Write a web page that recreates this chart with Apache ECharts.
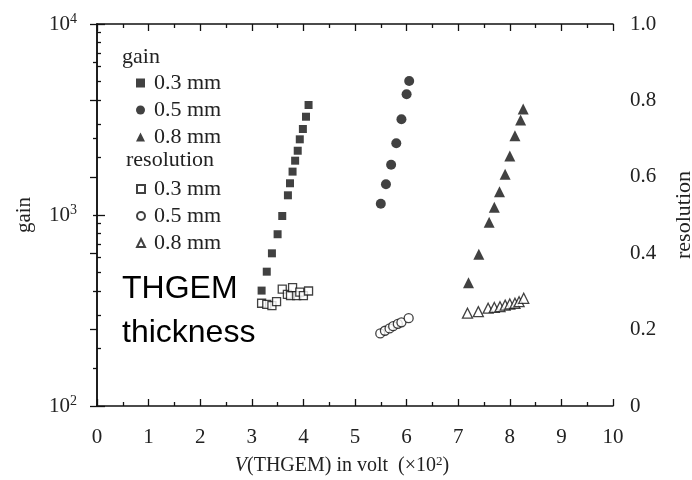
<!DOCTYPE html>
<html>
<head>
<meta charset="utf-8">
<script src="https://cdn.jsdelivr.net/npm/echarts@6/dist/echarts.min.js"></script>
<style>html,body{margin:0;padding:0;background:#fff}#c{width:692px;height:480px}</style>
</head>
<body>
<div id="c"></div>
<script>
// ---- data ----
var gain03X = [3.19, 3.29, 3.39, 3.50, 3.59, 3.70, 3.74, 3.79, 3.84, 3.89, 3.93, 3.99, 4.05, 4.10];
var gain03Y = [402, 505, 630, 793, 988, 1268, 1466, 1687, 1925, 2170, 2490, 2820, 3270, 3767];
var gain05X = [5.50, 5.60, 5.70, 5.80, 5.90, 6.00, 6.05];
var gain05Y = [1146, 1448, 1834, 2373, 3170, 4285, 5030];
var gain08X = [7.20, 7.40, 7.60, 7.70, 7.80, 7.91, 8.00, 8.10, 8.21, 8.26];
var gain08Y = [442, 623, 916, 1097, 1324, 1633, 2036, 2601, 3143, 3589];
var res03X = [3.19, 3.29, 3.39, 3.48, 3.59, 3.69, 3.75, 3.79, 3.87, 3.93, 4.00, 4.10];
var res03Y = [0.269, 0.266, 0.263, 0.273, 0.306, 0.292, 0.289, 0.310, 0.289, 0.298, 0.289, 0.301];
var res05X = [5.49, 5.58, 5.67, 5.74, 5.83, 5.90, 6.04];
var res05Y = [0.190, 0.197, 0.203, 0.209, 0.215, 0.219, 0.230];
var res08X = [7.18, 7.39, 7.58, 7.70, 7.81, 7.91, 8.00, 8.10, 8.18, 8.27];
var res08Y = [0.243, 0.247, 0.256, 0.258, 0.260, 0.264, 0.267, 0.269, 0.273, 0.282];
var thicknesses = ['0.3 mm', '0.5 mm', '0.8 mm'];
var xTicks = [0, 1, 2, 3, 4, 5, 6, 7, 8, 9, 10];
var gainMajorTicks = [100, 1000, 10000];
var gainMinorTicks = [200, 300, 400, 500, 600, 700, 800, 900, 2000, 3000, 4000, 5000, 6000, 7000, 8000, 9000];
var resTicks = [0, 0.2, 0.4, 0.6, 0.8, 1.0];

function pairs(xs, ys) { return xs.map(function (x, i) { return [x, ys[i]]; }); }

var SERIF = '"Liberation Serif", "DejaVu Serif", serif';
var TXT = '#222';
var INK = '#111';

var chart = echarts.init(document.getElementById('c'), null, { renderer: 'canvas' });

function filled(name, sym, size, xs, ys) {
  return {
    type: 'scatter', name: name, xAxisIndex: 0, yAxisIndex: 0,
    symbol: sym, symbolSize: size,
    itemStyle: { color: INK },
    data: pairs(xs, ys)
  };
}
function hollow(name, sym, size, xs, ys) {
  return {
    type: 'scatter', name: name, xAxisIndex: 0, yAxisIndex: 1,
    symbol: sym, symbolSize: size,
    itemStyle: { color: '#fff', borderColor: INK, borderWidth: 1.3 },
    data: pairs(xs, ys)
  };
}

var legendFmt = function (n) { return n.replace(/^\S+ /, ''); };
var legendText = { fontFamily: SERIF, fontSize: 22, color: TXT, padding: [0, 0, 0, 4] };

var option = {
  animation: false,
  backgroundColor: '#fff',
  grid: { left: 97, right: 79, top: 24, bottom: 74, outerBoundsMode: 'none', containLabel: false },
  legend: [
    {
      orient: 'vertical', left: 131, top: 67, itemWidth: 9, itemHeight: 9, itemGap: 5,
      data: thicknesses.map(function (t) { return 'gain ' + t; }),
      formatter: legendFmt, textStyle: legendText, selectedMode: false
    },
    {
      orient: 'vertical', left: 131, top: 173, itemWidth: 8, itemHeight: 8, itemGap: 5,
      data: thicknesses.map(function (t) { return 'resolution ' + t; }),
      formatter: legendFmt, textStyle: legendText, selectedMode: false
    }
  ],
  graphic: [
    { type: 'text', left: 122, top: 46, style: { text: 'gain', font: '22px ' + SERIF, fill: TXT } },
    { type: 'text', left: 126, top: 149, style: { text: 'resolution', font: '22px ' + SERIF, fill: TXT } },
    { type: 'text', left: 122, top: 267, style: { text: 'THGEM\nthickness', font: '32px "Liberation Sans", Arial, sans-serif', fill: '#000', lineHeight: 44 } }
  ],
  xAxis: [
    {
      type: 'value', position: 'bottom', min: 0, max: 10, interval: 1,
      axisLine: { lineStyle: { color: INK, width: 1.5 } },
      axisTick: { inside: true, length: 7, lineStyle: { color: INK, width: 1.3 } },
      minorTick: { show: true, splitNumber: 2, length: 4, lineStyle: { color: INK, width: 1.3 } },
      splitLine: { show: false },
      axisLabel: { margin: 21, fontFamily: SERIF, fontSize: 21, color: TXT, showMinLabel: true, showMaxLabel: true,
        formatter: function (v) { return xTicks.indexOf(v) >= 0 ? String(v) : ''; } },
      name: '{i|V}(THGEM) in volt  (×10{s|2})', nameLocation: 'middle', nameGap: 49,
      nameTextStyle: {
        fontFamily: SERIF, fontSize: 20, color: TXT, padding: [0, 26, 0, 0],
        rich: {
          i: { fontFamily: SERIF, fontSize: 20, fontStyle: 'italic', color: TXT },
          s: { fontFamily: SERIF, fontSize: 13, color: TXT, verticalAlign: 'top', padding: [0, 0, 8, 0] }
        }
      }
    },
    {
      type: 'value', position: 'top', min: 0, max: 10, interval: 1,
      axisLine: { lineStyle: { color: INK, width: 1.5 } },
      axisTick: { inside: true, length: 7, lineStyle: { color: INK, width: 1.3 } },
      minorTick: { show: true, splitNumber: 2, length: 4, lineStyle: { color: INK, width: 1.3 } },
      splitLine: { show: false }, axisLabel: { show: false }
    }
  ],
  yAxis: [
    {
      type: 'log', logBase: 10, position: 'left', min: 100, max: 10000,
      axisLine: { show: true, lineStyle: { color: INK, width: 1.5 } },
      axisTick: { show: true, inside: true, length: 8, customValues: gainMajorTicks, lineStyle: { color: INK, width: 1.3 } },
      splitLine: { show: false },
      axisLabel: {
        margin: 20, customValues: gainMajorTicks,
        formatter: function (v) { return '{b|10}{s|' + Math.round(Math.log10(v)) + '}'; },
        rich: {
          b: { fontFamily: SERIF, fontSize: 21, color: TXT },
          s: { fontFamily: SERIF, fontSize: 14, color: TXT, verticalAlign: 'top', padding: [0, 0, 10, 0] }
        }
      },
      name: 'gain', nameLocation: 'middle', nameGap: 62,
      nameTextStyle: { fontFamily: SERIF, fontSize: 21, color: TXT }
    },
    {
      type: 'value', position: 'right', min: 0, max: 1, interval: 0.2,
      axisLine: { show: true, lineStyle: { color: INK, width: 1.5 } },
      axisTick: { show: true, inside: true, length: 7, lineStyle: { color: INK, width: 1.3 } },
      minorTick: { show: true, splitNumber: 2, length: 4, lineStyle: { color: INK, width: 1.3 } },
      splitLine: { show: false },
      axisLabel: {
        margin: 17, fontFamily: SERIF, fontSize: 21, color: TXT,
        formatter: function (v) { return v === 0 ? '0' : v.toFixed(1); }
      },
      name: 'resolution', nameLocation: 'middle', nameGap: 60,
      nameTextStyle: { fontFamily: SERIF, fontSize: 22, color: TXT }
    },
    {
      type: 'log', logBase: 10, position: 'left', min: 100, max: 10000,
      axisLine: { show: false },
      axisTick: { show: true, inside: true, length: 4, customValues: gainMinorTicks, lineStyle: { color: INK, width: 1.3 } },
      axisLabel: { show: false }, splitLine: { show: false }
    }
  ],
  series: [
    filled('gain 0.3 mm', 'rect', 8, gain03X, gain03Y),
    filled('gain 0.5 mm', 'circle', 10, gain05X, gain05Y),
    filled('gain 0.8 mm', 'triangle', 11, gain08X, gain08Y),
    hollow('resolution 0.3 mm', 'rect', 8, res03X, res03Y),
    hollow('resolution 0.5 mm', 'circle', 9, res05X, res05Y),
    hollow('resolution 0.8 mm', 'triangle', 10, res08X, res08Y)
  ]
};
chart.setOption(option);
</script>
</body>
</html>
